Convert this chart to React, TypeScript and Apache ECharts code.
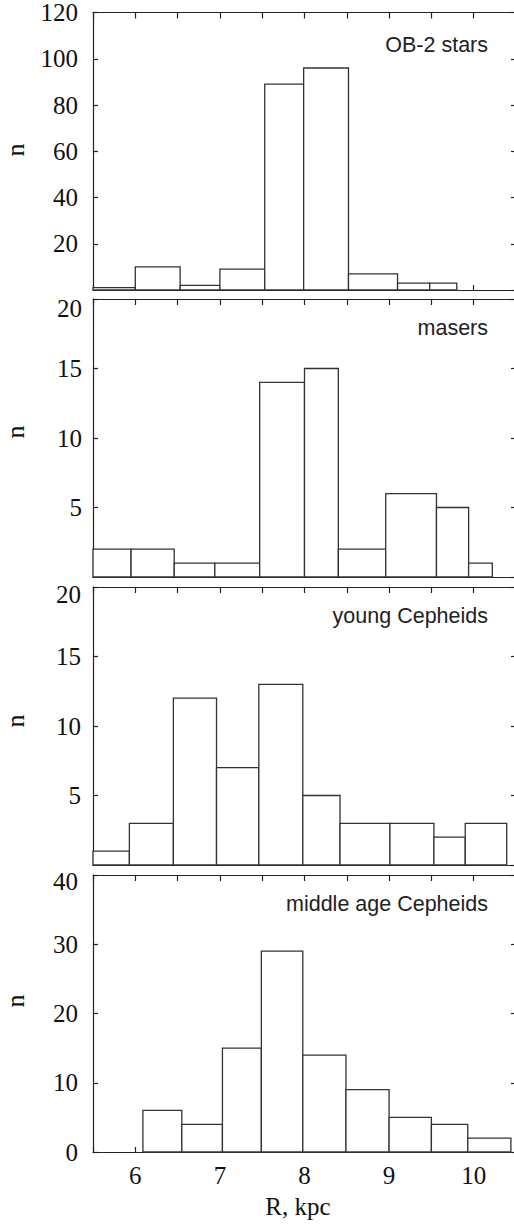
import React, { useEffect, useRef } from "react";
import * as echarts from "echarts";

// ---- data ----
const panelNames = ["OB-2 stars", "masers", "young Cepheids", "middle age Cepheids"];
const xLabels = [6, 7, 8, 9, 10];

const obEdges = [5.5, 6.0, 6.53, 7.0, 7.53, 7.99, 8.52, 9.1, 9.48, 9.8];
const obCounts = [1, 10, 2, 9, 89, 96, 7, 3, 3];

const maserEdges = [5.5, 5.95, 6.46, 6.94, 7.47, 8.0, 8.4, 8.96, 9.56, 9.94, 10.22];
const maserCounts = [2, 2, 1, 1, 14, 15, 2, 6, 5, 1];

const youngEdges = [5.5, 5.93, 6.45, 6.96, 7.46, 7.98, 8.42, 9.01, 9.53, 9.9, 10.39];
const youngCounts = [1, 3, 12, 7, 13, 5, 3, 3, 2, 3];

const middleEdges = [6.09, 6.55, 7.03, 7.49, 7.98, 8.49, 9.0, 9.5, 9.93, 10.44];
const middleCounts = [6, 4, 15, 29, 14, 9, 5, 4, 2];

const yMaxes = [120, 20, 20, 40];
const ySteps = [20, 5, 5, 10];
const xMin = 5.5;
const xMax = 10.5;
const xStep = 0.5;

// ---- layout ----
const CW = 520;
const CH = 1226;
const GRID_LEFT = 93;
const GRID_RIGHT = 4;
const panelTops = [12, 299, 587, 875];
const panelHeights = [278, 278, 278, 277];
const labelMargins = [15, 11, 12, 15];
const topLabelPad = [0, 19, 15, 13];
const nameY = [45, 328, 616, 904];
const nY = [150, 432, 721, 1001];

const SERIF = "'Liberation Serif', 'Times New Roman', serif";
const SANS = "'Liberation Sans', Arial, sans-serif";
const AXIS_COLOR = "#222";

function binsToData(edges: number[], counts: number[]) {
  return counts.map((c, i) => [edges[i], edges[i + 1], c]);
}

const allBins = [
  binsToData(obEdges, obCounts),
  binsToData(maserEdges, maserCounts),
  binsToData(youngEdges, youngCounts),
  binsToData(middleEdges, middleCounts),
];

function buildOption() {
  const grid: any[] = [];
  const xAxis: any[] = [];
  const yAxis: any[] = [];
  const series: any[] = [];
  const graphic: any[] = [];

  for (let i = 0; i < 4; i++) {
    const isLast = i === 3;
    grid.push({
      left: GRID_LEFT,
      right: GRID_RIGHT,
      top: panelTops[i],
      height: panelHeights[i],
      containLabel: false,
    });
    const lineStyle = { color: AXIS_COLOR, width: 1.2 };
    xAxis.push({
      type: "value",
      gridIndex: i,
      position: "bottom",
      min: xMin,
      max: xMax,
      interval: xStep,
      splitLine: { show: false },
      axisLine: { show: true, onZero: false, lineStyle },
      axisTick: { show: true, inside: true, length: 5, lineStyle },
      axisLabel: {
        show: isLast,
        margin: 11,
        fontFamily: SERIF,
        fontSize: 25,
        color: "#111",
        formatter: (v: number) => (xLabels.includes(v) ? String(v) : ""),
      },
    });
    xAxis.push({
      type: "value",
      gridIndex: i,
      position: "top",
      min: xMin,
      max: xMax,
      interval: xStep,
      splitLine: { show: false },
      axisLine: { show: true, onZero: false, lineStyle },
      axisTick: { show: true, inside: true, length: 6, lineStyle },
      axisLabel: { show: false },
    });
    const maxV = yMaxes[i];
    const pad = topLabelPad[i];
    yAxis.push({
      type: "value",
      gridIndex: i,
      position: "left",
      min: 0,
      max: maxV,
      interval: ySteps[i],
      splitLine: { show: false },
      axisLine: { show: true, onZero: false, lineStyle },
      axisTick: { show: true, inside: true, length: 5, lineStyle },
      axisLabel: {
        show: true,
        showMinLabel: isLast,
        margin: labelMargins[i],
        fontFamily: SERIF,
        fontSize: 25,
        color: "#111",
        formatter: (v: number) => (v === maxV && pad > 0 ? `{t|${v}}` : `${v}`),
        rich: {
          t: {
            fontFamily: SERIF,
            fontSize: 25,
            color: "#111",
            padding: [pad, 0, 0, 0],
          },
        },
      },
    });
    yAxis.push({
      type: "value",
      gridIndex: i,
      position: "right",
      min: 0,
      max: maxV,
      interval: ySteps[i],
      splitLine: { show: false },
      axisLine: { show: true, onZero: false, lineStyle },
      axisTick: { show: true, inside: true, length: 5, lineStyle },
      axisLabel: { show: false },
    });

    series.push({
      type: "custom",
      xAxisIndex: 2 * i,
      yAxisIndex: 2 * i,
      data: allBins[i],
      encode: { x: [0, 1], y: 2 },
      z: 1,
      renderItem: (_params: any, api: any) => {
        const x0 = api.value(0);
        const x1 = api.value(1);
        const n = api.value(2);
        const p0 = api.coord([x0, n]);
        const p1 = api.coord([x1, 0]);
        return {
          type: "rect",
          shape: { x: p0[0], y: p0[1], width: p1[0] - p0[0], height: p1[1] - p0[1] },
          style: { fill: "#fff", stroke: "#333", lineWidth: 1.3 },
        };
      },
    });

    graphic.push({
      type: "text",
      x: 488,
      y: nameY[i],
      z: 10,
      style: {
        text: panelNames[i],
        fontFamily: SANS,
        fontSize: 21.5,
        fill: "#222",
        align: "right",
        verticalAlign: "middle",
      },
    });
    graphic.push({
      type: "text",
      x: 15,
      y: nY[i],
      rotation: Math.PI / 2,
      z: 10,
      style: {
        text: "n",
        fontFamily: SERIF,
        fontSize: 26,
        fill: "#111",
        align: "center",
        verticalAlign: "middle",
      },
    });
  }

  graphic.push({
    type: "text",
    x: 298,
    y: 1206,
    z: 10,
    style: {
      text: "R, kpc",
      fontFamily: SERIF,
      fontSize: 25,
      fill: "#111",
      align: "center",
      verticalAlign: "middle",
    },
  });

  return {
    animation: false,
    backgroundColor: "#fff",
    grid,
    xAxis,
    yAxis,
    series,
    graphic,
  };
}

export default function App() {
  const ref = useRef<HTMLDivElement>(null);
  useEffect(() => {
    if (!ref.current) return;
    const chart = echarts.init(ref.current, undefined, { renderer: "svg" });
    chart.setOption(buildOption());
    return () => chart.dispose();
  }, []);
  return (
    <div
      style={{
        position: "absolute",
        left: 0,
        top: 0,
        width: 514,
        height: CH,
        overflow: "hidden",
        background: "#fff",
      }}
    >
      <div ref={ref} style={{ width: CW, height: CH }} />
    </div>
  );
}
